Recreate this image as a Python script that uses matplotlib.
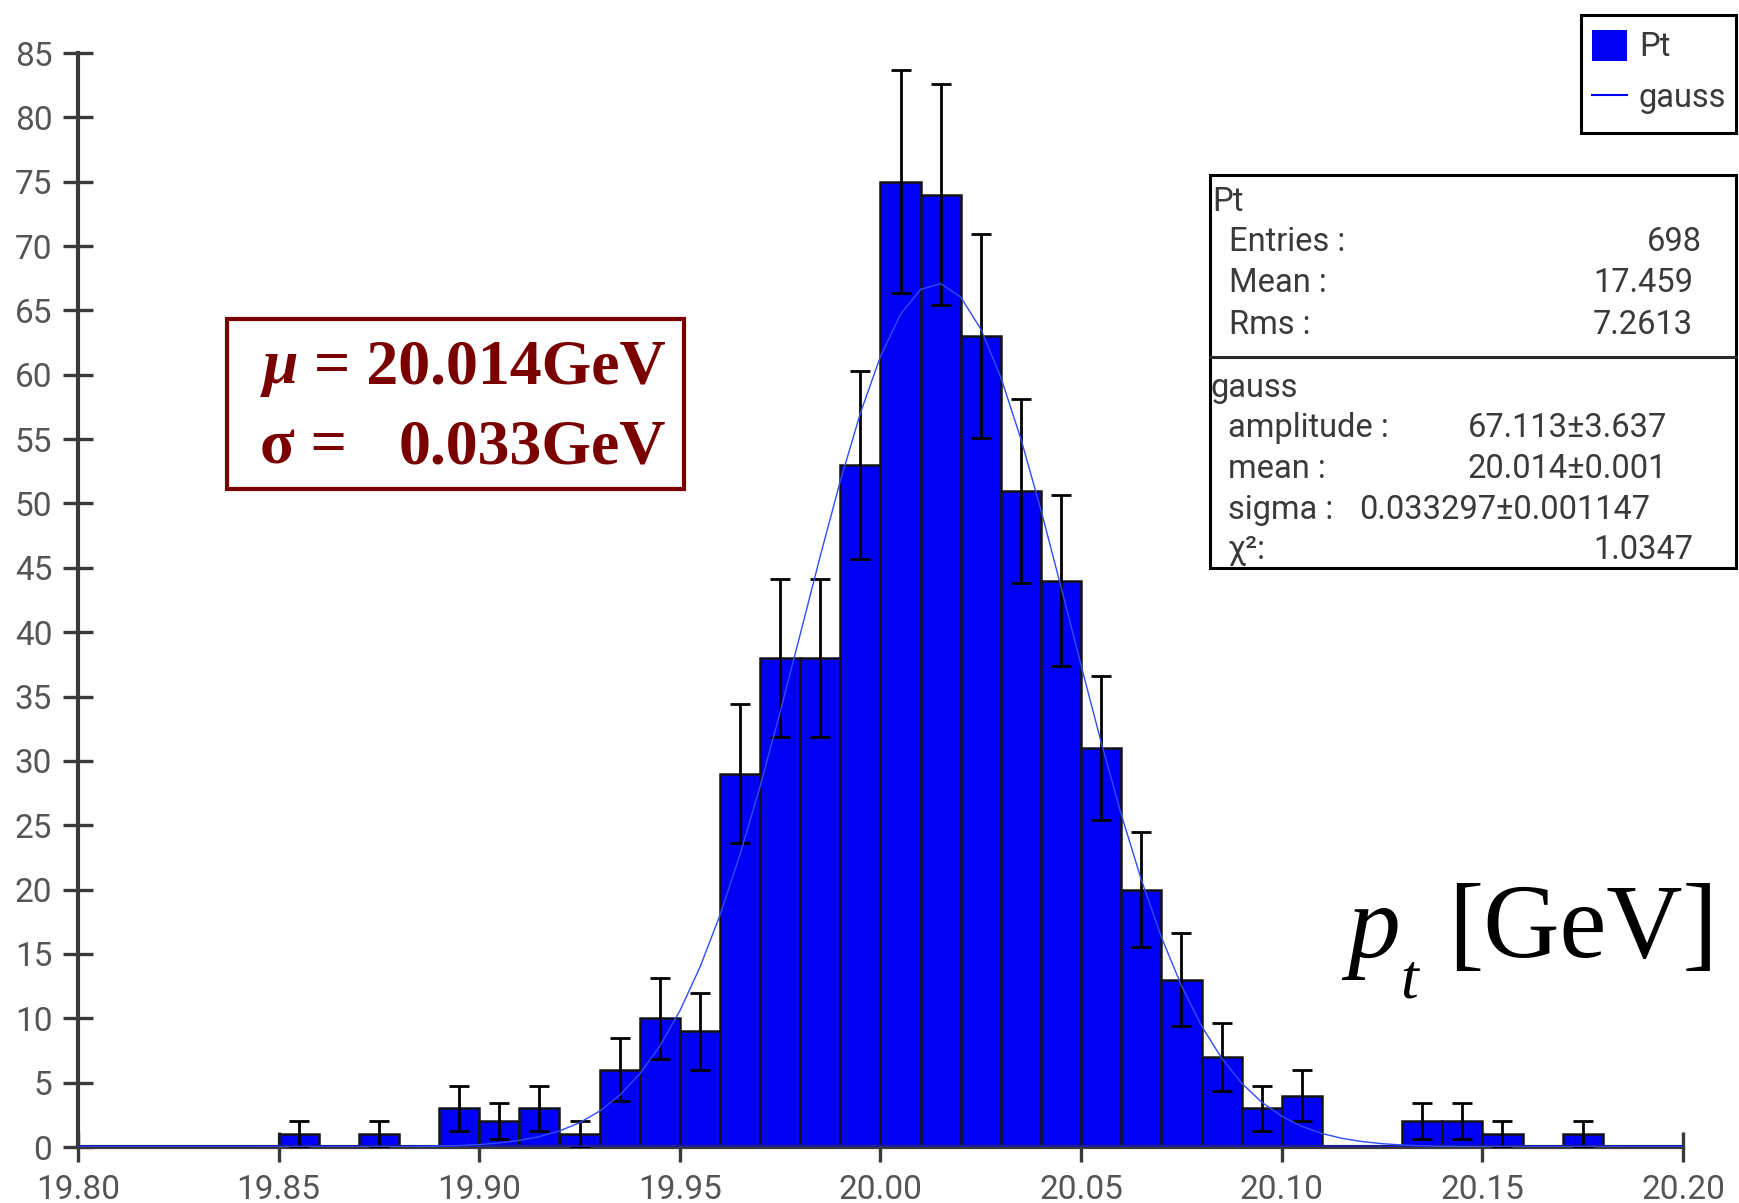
import numpy as np
import matplotlib
matplotlib.use("Agg")
import matplotlib.pyplot as plt
from matplotlib.patches import Rectangle

# histogram of Pt, 0.01 GeV bins from 19.80 to 20.20
bin_lo = 19.80
bin_w = 0.01
counts = [0, 0, 0, 0, 0, 1, 0, 1, 0, 3,
          2, 3, 1, 6, 10, 9, 29, 38, 38, 53,
          75, 74, 63, 51, 44, 31, 20, 13, 7, 3,
          4, 0, 0, 2, 2, 1, 0, 1, 0, 0]

# fit results shown in the stats box
amp = 67.113
mu = 20.014
sigma = 0.033297

stats_rows = [("Entries :", "698"), ("Mean :", "17.459"), ("Rms :", "7.2613")]
fit_rows = [("amplitude :", "67.113\u00b13.637"), ("mean :", "20.014\u00b10.001"),
            ("sigma :", "0.033297\u00b10.001147"), ("\u03c7\u00b2:", "1.0347")]

x_ticks = [19.80, 19.85, 19.90, 19.95, 20.00, 20.05, 20.10, 20.15, 20.20]
y_ticks = list(range(0, 90, 5))

W, H = 1739, 1203
fig = plt.figure(figsize=(W / 100, H / 100), dpi=100)
ax = fig.add_axes([78 / W, 1 - 1147 / H, (1683 - 78) / W, (1147 - 53) / H])

counts = np.array(counts)
lefts = bin_lo + bin_w * np.arange(len(counts))
nz = counts > 0

ax.bar(lefts[nz], counts[nz], width=bin_w, align="edge", color="#0000f5",
       edgecolor="#141414", linewidth=1.8, zorder=2)
ax.errorbar(lefts[nz] + bin_w / 2, counts[nz], yerr=np.sqrt(counts[nz]), fmt="none",
            ecolor="black", elinewidth=2.0, capsize=7, capthick=2.0, zorder=3)

# zero line of the histogram and the gauss fit
ax.plot([19.80, 20.20], [0, 0], color="#1a1aa8", lw=2.6, zorder=4)
xs = np.arange(19.80, 20.2001, bin_w / 2)
ax.plot(xs, amp * np.exp(-0.5 * ((xs - mu) / sigma) ** 2), color="#2f4cff", lw=1.0, zorder=5)

ax.set_xlim(19.80, 20.20)
ax.set_ylim(0, 85)
ax.set_xticks(x_ticks)
ax.set_xticklabels([f"{t:.2f}" for t in x_ticks])
ax.set_yticks(y_ticks)
for s in ("top", "right"):
    ax.spines[s].set_visible(False)
for s in ("left", "bottom"):
    ax.spines[s].set_color("#3a3a3a")
    ax.spines[s].set_linewidth(3)
ax.tick_params(axis="both", direction="inout", length=21, width=2.4, color="#3a3a3a",
               labelsize=24, labelcolor="#555555")
ax.tick_params(axis="y", pad=8)
ax.tick_params(axis="x", pad=9)
for lab in ax.get_xticklabels() + ax.get_yticklabels():
    lab.set_fontfamily("Roboto")
ax.patch.set_alpha(0)


def fx(px):
    return px / W


def fy(py):
    return 1 - py / H


def box(x0, y0, x1, y1, color="black", lw=2.2):
    fig.patches.append(Rectangle((fx(x0), fy(y1)), fx(x1) - fx(x0), fy(y0) - fy(y1),
                                 transform=fig.transFigure, fill=True, facecolor="white",
                                 edgecolor=color, linewidth=lw, zorder=10))


txt = dict(fontfamily="Roboto", fontsize=23.5, color="#3a3a3a", va="center", zorder=11)

# legend
box(1581, 15, 1736, 133)
fig.patches.append(Rectangle((fx(1592), fy(61)), fx(1627) - fx(1592), fy(30) - fy(61),
                             transform=fig.transFigure, facecolor="#0000f5", edgecolor="none", zorder=11))
fig.lines.append(plt.Line2D([fx(1592), fx(1627)], [fy(95), fy(95)], transform=fig.transFigure,
                            color="#0000f5", lw=1.5, zorder=11))
fig.text(fx(1639), fy(47), "Pt", **txt)
fig.text(fx(1639), fy(98), "gauss", **txt)

# stats box
box(1210, 175, 1736, 568)
fig.lines.append(plt.Line2D([fx(1210), fx(1736)], [fy(357), fy(357)], transform=fig.transFigure,
                            color="#2a2a2a", lw=2.2, zorder=11))
fig.text(fx(1212), fy(202), "Pt", **txt)
ys = [242, 283, 325]
rights = [1702, 1693, 1693]
for (k, v), yy, xr in zip(stats_rows, ys, rights):
    fig.text(fx(1229), fy(yy), k, **txt)
    fig.text(fx(xr), fy(yy), v, ha="right", **txt)
fig.text(fx(1211), fy(388), "gauss", **txt)
ys = [428, 469, 510, 550]
rights = [1667, 1667, 1650, 1693]
for (k, v), yy, xr in zip(fit_rows, ys, rights):
    fig.text(fx(1228), fy(yy), k, **txt)
    fig.text(fx(xr), fy(yy), v, ha="right", **txt)

# mu / sigma annotation
box(227, 319, 684, 489, color="#7a0000", lw=3)
red = dict(fontfamily="Liberation Serif", fontsize=46, fontweight="bold", color="#7a0000",
           va="baseline", zorder=11)
fig.text(fx(263), fy(383), "\u03bc", style="italic", **red)
fig.text(fx(666), fy(383), "= 20.014GeV", ha="right", **red)
fig.text(fx(260), fy(464), "\u03c3 =", **red)
fig.text(fx(666), fy(464), "0.033GeV", ha="right", **red)

# axis label
fig.text(fx(1347), fy(957), "p", fontfamily="Liberation Serif", fontsize=76, style="italic",
         va="baseline", color="black")
fig.text(fx(1400), fy(998), "t", fontfamily="Liberation Serif", fontsize=46, style="italic",
         va="baseline", color="black")
fig.text(fx(1448), fy(957), "[GeV]", fontfamily="Liberation Serif", fontsize=76,
         va="baseline", color="black")

fig.savefig("out.png", dpi=100, facecolor="white")
